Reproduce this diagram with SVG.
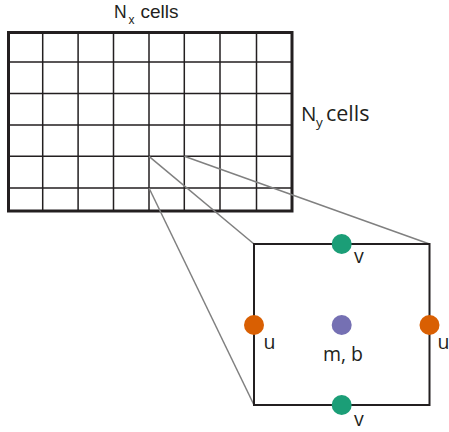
<svg xmlns="http://www.w3.org/2000/svg" width="449" height="432" viewBox="0 0 449 432">
<style>
.lbl{font-family:"Open Sans","Liberation Sans",sans-serif;font-size:19.5px;fill:#231f20}
.sub{font-family:"Open Sans","Liberation Sans",sans-serif;font-size:12.5px;fill:#231f20}
.top{font-family:"Liberation Sans",Arial,sans-serif;fill:#231f20}
.grid{stroke:#231f20;stroke-width:1.5;fill:none}
.zoom{stroke:#808080;stroke-width:1.5;fill:none}
</style>
<rect width="449" height="432" fill="#ffffff"/>
<g id="grid">
<g class="grid">
<path d="M42.7 32.5V211 M78.1 32.5V211 M113.5 32.5V211 M149 32.5V211 M184.3 32.5V211 M220 32.5V211 M256.5 32.5V211"/>
<path d="M8.5 62H292 M8.5 93.5H292 M8.5 125H292 M8.5 156.3H292 M8.5 188H292"/>
</g>
<rect x="8.5" y="32.5" width="283.5" height="178.5" fill="none" stroke="#231f20" stroke-width="3"/>
</g>
<g id="connectors" class="zoom">
<line x1="149" y1="156.3" x2="254" y2="244"/>
<line x1="184.3" y1="156.3" x2="429.5" y2="244"/>
<line x1="149" y1="188" x2="254" y2="405"/>
</g>
<g id="cell">
<rect x="254" y="244" width="175.5" height="161" fill="none" stroke="#231f20" stroke-width="2"/>
</g>
<g id="labelNx">
<text class="top" x="114" y="18" style="font-size:17.5px">N</text><text class="top" x="128.5" y="24" style="font-size:12px">x</text><text class="top" x="140.5" y="18" style="font-size:19px">cells</text>
</g>
<g id="labelNy">
<text class="lbl" x="301" y="120.5" style="font-size:20.5px">N</text><text class="sub" x="316" y="127" style="font-size:13.5px">y</text><text class="lbl" x="326" y="120.5" style="font-size:21.5px">cells</text>
</g>
<g id="vTop"><circle cx="341.7" cy="244" r="10" fill="#1b9e77"/><text class="lbl" x="354" y="263">v</text></g>
<g id="uLeft"><circle cx="254" cy="325" r="10" fill="#d95f02"/><text class="lbl" x="263.5" y="349">u</text></g>
<g id="center"><circle cx="341.7" cy="325" r="10" fill="#7570b3"/><text class="lbl" x="343" y="360.5" text-anchor="middle">m, b</text></g>
<g id="uRight"><circle cx="429.5" cy="325" r="10" fill="#d95f02"/><text class="lbl" x="437.5" y="349">u</text></g>
<g id="vBottom"><circle cx="341.7" cy="405" r="10" fill="#1b9e77"/><text class="lbl" x="354" y="426">v</text></g>
</svg>
